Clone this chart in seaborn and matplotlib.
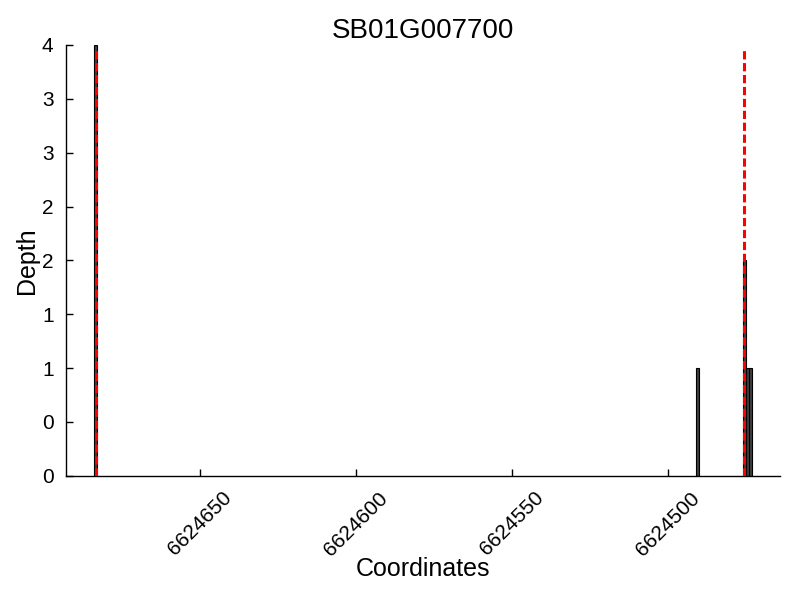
import numpy as np
import matplotlib
matplotlib.use('Agg')
import matplotlib.pyplot as plt
import seaborn as sns
from matplotlib.ticker import FormatStrFormatter

# values (bar centres)
gene = 'SB01G007700'
coords = [6624683.5, 6624490.5, 6624475.5, 6624474.5, 6624473.5]
depths = [4, 1, 2, 1, 1]
site_lines = [6624683.5, 6624475.5]
x_ticks = [6624650, 6624600, 6624550, 6624500]
y_ticks = [0, 0.5, 1, 1.5, 2, 2.5, 3, 3.5, 4]

sns.set_style('ticks')
plt.rcParams['font.family'] = ['Liberation Sans', 'DejaVu Sans']
plt.rcParams['text.color'] = 'black'
plt.rcParams['axes.labelcolor'] = 'black'
plt.rcParams['xtick.color'] = 'black'
plt.rcParams['ytick.color'] = 'black'

fig = plt.figure(figsize=(8, 6), dpi=100)
ax = fig.add_axes([0.0825, 0.207, 0.8925, 0.718])

sns.barplot(x=coords, y=depths, native_scale=True, width=1.0, errorbar=None,
            color='#404040', saturation=1, edgecolor='black', linewidth=0.8, ax=ax)

ax.vlines(site_lines, 0, 3.95, colors='red', linewidth=2.2,
          linestyles=(0, (2.7, 1.2)), zorder=5)

ax.set_xlim(6624693, 6624464)
ax.set_ylim(0, 4)
ax.set_xticks(x_ticks)
ax.set_xticklabels([str(t) for t in x_ticks], rotation=45, fontsize=15)
ax.set_yticks(y_ticks)
ax.yaxis.set_major_formatter(FormatStrFormatter('%d'))
ax.tick_params(axis='y', labelsize=15)
ax.tick_params(direction='in', length=5, width=1, pad=9)

sns.despine(ax=ax)
for s in ['left', 'bottom']:
    ax.spines[s].set_color('black')
    ax.spines[s].set_linewidth(1.0)

ax.set_title(gene, fontsize=20, pad=5)
ax.set_xlabel('Coordinates', fontsize=18, labelpad=-2)
ax.set_ylabel('Depth', fontsize=18, labelpad=2)

fig.savefig('out.png', dpi=100)
